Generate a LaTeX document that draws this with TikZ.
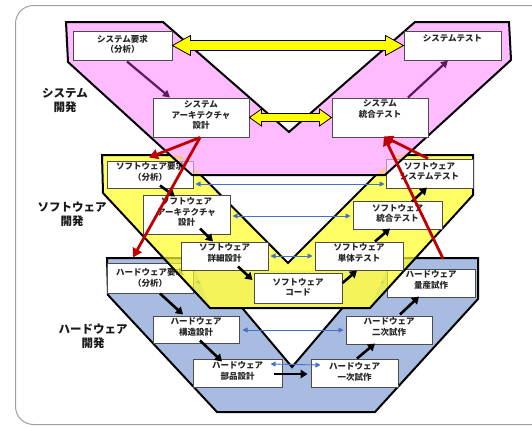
\documentclass[tikz,border=0pt]{standalone}
\usepackage{fontspec}
\setmainfont{Noto Sans CJK JP}
\usetikzlibrary{arrows.meta,calc}
\definecolor{vpink}{RGB}{255,187,255}
\definecolor{vyellow}{RGB}{255,255,36}
\definecolor{vblue}{RGB}{168,188,226}
\definecolor{vorange}{RGB}{250,196,150}
\definecolor{vpurple}{RGB}{96,24,96}
\definecolor{vred}{RGB}{192,0,0}
\definecolor{vlblue}{RGB}{68,114,196}
\definecolor{vframe}{RGB}{160,160,160}
\definecolor{yarrow}{RGB}{255,255,0}
\begin{document}
\begin{tikzpicture}[x=1pt,y=-1pt,
  box/.style={draw=black!70,line width=1pt,fill=white,inner sep=0pt},
  btxt/.style={font=\fontsize{8.5}{10.5}\selectfont\bfseries,align=center,text=black!85,inner sep=0pt},
  lbl/.style={font=\fontsize{11.5}{14}\selectfont\bfseries,align=center,text=black!90,inner sep=0pt},
  vline/.style={draw=black,line width=2pt,line join=miter},
  blk/.style={draw=black,line width=2.6pt,-{Triangle[length=7pt,width=8.5pt]}},
  redar/.style={draw=vred,line width=2.8pt,-{Triangle[length=9pt,width=10pt]}},
  purar/.style={draw=vpurple,line width=2.2pt,-{Triangle[length=7pt,width=7.5pt]}},
  thinar/.style={draw=vlblue,line width=0.9pt,{Triangle[length=5pt,width=5pt]}-{Triangle[length=5pt,width=5pt]}},
  fat/.style={fill=yarrow,draw=black,line width=0.8pt,line join=miter}
]
\useasboundingbox (0,0) rectangle (532,426);
\clip (0,0) rectangle (532,426);
\fill[white] (0,0) rectangle (532,426);
\draw[vframe,line width=1pt,rounded corners=18pt] (15.5,5.5) rectangle (570,424.5);

% hardware V
\filldraw[fill=vblue,vline] (107,258) -- (200,258) -- (292,367) -- (385,258) -- (478,258) -- (478,299) -- (375,412) -- (217,412) -- (108,295) -- cycle;

% hardware boxes
\node[box,minimum width=86pt,minimum height=30pt] (H1) at (150,278) {};
\node[box,minimum width=86pt,minimum height=27pt] (H2) at (196,329.5) {};
\node[box,minimum width=89pt,minimum height=28pt] (H3) at (237.5,373) {};
\node[box,minimum width=87pt,minimum height=28pt] (H4) at (354.5,373) {};
\node[box,minimum width=86pt,minimum height=28pt] (H5) at (389,330) {};
\node[box,minimum width=88pt,minimum height=28pt] (H6) at (431,283) {};
\node[btxt] (H1t) at (150,278) {ハードウェア要求\\（分析）};
\node[btxt] (H2t) at (196,327) {ハードウェア\\構造設計};
\node[btxt] (H3t) at (237.5,371) {ハードウェア\\部品設計};
\node[btxt] (H4t) at (354.5,372) {ハードウェア\\一次試作};
\node[btxt] (H5t) at (389,327) {ハードウェア\\二次試作};
\node[btxt] (H6t) at (431,280) {ハードウェア\\量産試作};
\draw[thinar] ($(H1.east)+(2,4)$) -- ($(H6.west)+(-2,-1)$);

% floor under the software V
\fill[black!14] (195,270) -- (387,270) -- (370,307) -- (210,307) -- cycle;

% software V
\filldraw[fill=vyellow,fill opacity=0.7,vline] (102,155) -- (181,155) -- (288,263) -- (396,155) -- (473,155) -- (473,195) -- (370,308) -- (210,308) -- (103,193) -- cycle;

% system V fill
\fill[vpink] (66,22) -- (163,22) -- (289,132) -- (415,22) -- (509,22) -- (511,60) -- (385,175) -- (192,175) -- (68,62) -- cycle;
\begin{scope}
  \clip (102,155) -- (181,155) -- (288,263) -- (396,155) -- (473,155) -- (473,195) -- (370,308) -- (210,308) -- (103,193) -- cycle;
  \fill[vorange] (66,22) -- (163,22) -- (289,132) -- (415,22) -- (509,22) -- (511,60) -- (385,175) -- (192,175) -- (68,62) -- cycle;
\end{scope}

% software boxes
\node[box,minimum width=86pt,minimum height=27pt] (W1) at (150,174.5) {};
\node[box,minimum width=87pt,minimum height=39pt] (W2) at (186.5,214.5) {};
\node[box,minimum width=87pt,minimum height=28pt] (W3) at (224.5,256) {};
\node[box,minimum width=88pt,minimum height=30pt] (W4) at (298,288) {};
\node[box,minimum width=88pt,minimum height=28pt] (W5) at (359,256) {};
\node[box,minimum width=89pt,minimum height=28pt] (W6) at (397.5,215) {};
\node[box,minimum width=87pt,minimum height=29pt] (W7) at (429.5,173.5) {};
\node[btxt] (W1t) at (150,172) {ソフトウェア要求\\（分析）};
\node[btxt] (W2t) at (186.5,212) {ソフトウェア\\アーキテクチャ\\設計};
\node[btxt] (W3t) at (224.5,253) {ソフトウェア\\詳細設計};
\node[btxt] (W4t) at (298,287.5) {ソフトウェア\\コード};
\node[btxt] (W5t) at (359,253) {ソフトウェア\\単体テスト};
\node[btxt] (W6t) at (397.5,213.5) {ソフトウェア\\統合テスト};
\node[btxt] (W7t) at (429.5,171.5) {ソフトウェア\\システムテスト};

% pink tint over the software boxes it covers
\begin{scope}
  \clip ($(W1.south west)+(-1,1)$) rectangle ($(W1.north east)+(1,-1)$) ($(W7.south west)+(-1,1)$) rectangle ($(W7.north east)+(1,-1)$);
  \fill[vpink,opacity=0.6] (66,22) -- (163,22) -- (289,132) -- (415,22) -- (509,22) -- (511,60) -- (385,175) -- (192,175) -- (68,62) -- cycle;
\end{scope}
% system V outline
\draw[vline] (66,22) -- (163,22) -- (289,132) -- (415,22) -- (509,22) -- (511,60) -- (385,175) -- (192,175) -- (68,62) -- cycle;

% system boxes
\node[box,minimum width=99pt,minimum height=29pt] (S1) at (122.5,45.5) {};
\node[box,minimum width=97pt,minimum height=29pt] (S2) at (452.5,45.5) {};
\node[box,minimum width=96pt,minimum height=39pt] (S3) at (201,117.5) {};
\node[box,minimum width=96pt,minimum height=39pt] (S4) at (380,117.5) {};
\node[btxt] (S1t) at (122.5,44.5) {システム要求\\（分析）};
\node[btxt] (S2t) at (452.5,38.5) {システムテスト};
\node[btxt] (S3t) at (201,115) {システム\\アーキテクチャ\\設計};
\node[btxt] (S4t) at (380,109) {システム\\統合テスト};

% yellow double arrows
\filldraw[fat] (S1.east) -- ++(18,-10) -- ++(0,5) -- ($(S2.west)+(-18,-5)$) -- ++(0,-5) -- (S2.west) -- ++(-18,10) -- ++(0,-5) -- ($(S1.east)+(18,5)$) -- ++(0,5) -- cycle;
\filldraw[fat] (S3.east) -- ++(12,-8.5) -- ++(0,4.5) -- ($(S4.west)+(-12,-4)$) -- ++(0,-4.5) -- (S4.west) -- ++(-12,8.5) -- ++(0,-4.5) -- ($(S3.east)+(12,4)$) -- ++(0,4.5) -- cycle;

% purple arrows
\draw[purar] ($(S1.south)+(4.5,1)$) -- ($(S3.north)+(-31,0)$);
\draw[purar] ($(S4.north)+(28,0)$) -- ($(S2.south)+(-4.5,0)$);

% thin blue double arrows
\draw[thinar] ($(W1.east)+(2,9.5)$) -- ($(W7.west)+(-1,10.5)$);
\draw[thinar] ($(W2.east)+(2,1.5)$) -- ($(W6.west)+(-2,1)$);
\draw[thinar] ($(W3.east)+(2,0)$) -- ($(W5.west)+(-2,0)$);
\draw[thinar] ($(H2.east)+(3,0.5)$) -- ($(H5.west)+(-2,0)$);
\draw[thinar] ($(H3.east)+(-12,-9)$) -- ($(H4.west)+(10,-8)$);

% black process arrows
\draw[blk] ($(W1.south)+(10,-3)$) -- ($(W2.north)+(-11.5,2)$);
\draw[blk] ($(W2.south)+(13.5,-6)$) -- ($(W3.north)+(-11.5,0)$);
\draw[blk] ($(W3.south)+(13.5,-4)$) -- ($(W4.west)+(-1,-8)$);
\draw[blk] ($(W4.east)+(0,-5)$) -- ($(W5.south)+(-2,0)$);
\draw[blk] ($(W5.north)+(16,0)$) -- ($(W6.south)+(-7.5,-1)$);
\draw[blk] ($(W6.north)+(14.5,1)$) -- ($(W7.south)+(-2.5,-1)$);
\draw[blk] ($(H1.south)+(10,0)$) -- ($(H2.north)+(-13,-1)$);
\draw[blk] ($(H2.south)+(4,-3)$) -- ($(H3.north)+(-15.5,3)$);
\draw[blk] ($(H3.east)+(-9,1)$) -- ($(H4.west)+(-3,1)$);
\draw[blk] ($(H4.north)+(2.5,0)$) -- ($(H5.south)+(-14,-1)$);
\draw[blk] ($(H5.north)+(11,-1)$) -- ($(H6.south)+(-12,-1)$);

% red arrows
\draw[redar] ($(S3.south)+(-1,0)$) -- ($(W1.north)+(-1,-3)$);
\draw[redar] ($(S3.south)+(-1,0)$) -- ($(H1.north)+(-17,-5)$);
\draw[redar] ($(W7.north)+(-1.5,0)$) -- ($(S4.south)+(4,-1)$);
\draw[redar] ($(H6.north)+(12,-10)$) -- ($(S4.south)+(4,-1)$);

% stage labels
\node[lbl] (LS) at (65,100) {システム\\開発};
\node[lbl] (LW) at (72,214) {ソフトウェア\\開発};
\node[lbl] (LH) at (93,336) {ハードウェア\\開発};
\end{tikzpicture}
\end{document}
